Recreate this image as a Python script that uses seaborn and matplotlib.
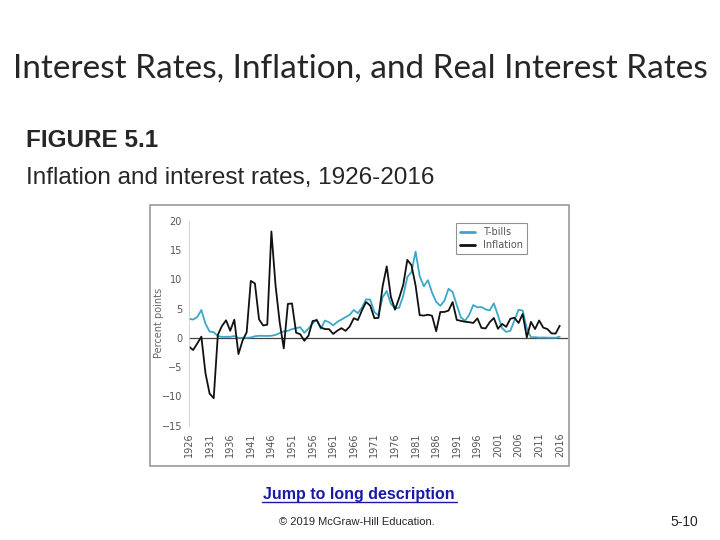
import matplotlib
matplotlib.use("Agg")

import matplotlib.pyplot as plt
import pandas as pd
import seaborn as sns
from matplotlib.patches import Rectangle

# Annual data, 1926-2016 (percent)
years = list(range(1926, 2017))
tbills = [
    3.27, 3.12, 3.56, 4.75, 2.41, 1.07, 0.96, 0.30, 0.16, 0.17,
    0.18, 0.31, -0.02, 0.02, 0.00, 0.06, 0.27, 0.35, 0.33, 0.33,
    0.35, 0.50, 0.81, 1.10, 1.20, 1.49, 1.66, 1.82, 0.86, 1.57,
    2.46, 3.14, 1.54, 2.95, 2.66, 2.13, 2.73, 3.12, 3.54, 3.93,
    4.76, 4.21, 5.21, 6.58, 6.52, 4.39, 3.84, 6.93, 8.00, 5.80,
    5.08, 5.12, 7.18, 10.38, 11.24, 14.71, 10.54, 8.80, 9.85, 7.72,
    6.16, 5.47, 6.35, 8.37, 7.81, 5.60, 3.51, 2.90, 3.90, 5.60,
    5.21, 5.26, 4.86, 4.68, 5.89, 3.83, 1.65, 1.02, 1.20, 2.98,
    4.80, 4.66, 1.60, 0.10, 0.12, 0.04, 0.06, 0.03, 0.02, 0.02,
    0.20,
]
inflation = [
    -1.49, -2.08, -0.97, 0.20, -6.03, -9.52, -10.30, 0.51, 2.03, 2.99,
    1.21, 3.10, -2.78, -0.48, 0.96, 9.72, 9.29, 3.16, 2.11, 2.25,
    18.16, 9.01, 2.71, -1.80, 5.79, 5.87, 0.88, 0.62, -0.50, 0.37,
    2.86, 3.02, 1.76, 1.50, 1.48, 0.67, 1.22, 1.65, 1.19, 1.92,
    3.35, 3.04, 4.72, 6.11, 5.49, 3.36, 3.41, 8.80, 12.20, 7.01,
    4.81, 6.77, 9.03, 13.31, 12.40, 8.94, 3.87, 3.80, 3.95, 3.77,
    1.13, 4.41, 4.42, 4.65, 6.11, 3.06, 2.90, 2.75, 2.67, 2.54,
    3.32, 1.70, 1.61, 2.68, 3.39, 1.55, 2.38, 1.88, 3.26, 3.42,
    2.54, 4.08, 0.09, 2.72, 1.50, 2.96, 1.74, 1.50, 0.76, 0.73,
    2.07,
]
tick_years = list(range(1926, 2017, 5))
y_ticks = [-15, -10, -5, 0, 5, 10, 15, 20]

df = pd.DataFrame({
    "Year": years * 2,
    "Rate": tbills + inflation,
    "Series": ["T-bills"] * len(years) + ["Inflation"] * len(years),
})

sns.set_style("white")

fig = plt.figure(figsize=(7.2, 5.4), dpi=100)

# Slide texts
fig.text(0.5, 0.873, "Interest Rates, Inflation, and Real Interest Rates",
         ha="center", va="center", fontsize=24, family="Lato")
fig.text(0.036, 0.739, "FIGURE 5.1", ha="left", va="center",
         fontsize=17.5, fontweight="bold", family="Liberation Sans")
fig.text(0.036, 0.670, "Inflation and interest rates, 1926-2016", ha="left",
         va="center", fontsize=17.5, family="Liberation Sans")

# Grey frame around the figure image
fig.patches.append(Rectangle((150 / 720, 1 - 466 / 540), 419 / 720, 261 / 540,
                             transform=fig.transFigure, fill=False,
                             edgecolor="#9a9a9a", linewidth=1.2))

ax = fig.add_axes([189 / 720, 1 - 425.7 / 540, 379 / 720, 205 / 540])
sns.lineplot(data=df, x="Year", y="Rate", hue="Series",
             palette={"T-bills": "#3aa8c9", "Inflation": "#111111"},
             linewidth=1.3, ax=ax)
ax.axhline(0, color="#444444", linewidth=0.9, zorder=0)

ax.set_xlim(1926, 2018)
ax.set_ylim(-15, 20)
ax.set_xticks(tick_years)
ax.set_xticklabels([str(y) for y in tick_years], rotation=90)
ax.set_yticks(y_ticks)
ax.set_xlabel("")
ax.set_ylabel("Percent points", fontsize=7, color="#666666")
ax.yaxis.set_label_coords(-0.066, 0.5)
ax.tick_params(axis="both", labelsize=7, colors="#555555", direction="out",
               length=3, width=0.6, pad=2)
for side in ["top", "right", "bottom"]:
    ax.spines[side].set_visible(False)
ax.spines["left"].set_color("#cccccc")
ax.spines["left"].set_linewidth(0.6)

leg = ax.legend(loc="upper right", bbox_to_anchor=(0.905, 1.012), fontsize=7,
                frameon=True, fancybox=False, handlelength=1.6,
                borderpad=0.4, labelspacing=0.3)
leg.get_frame().set_edgecolor("#777777")
leg.get_frame().set_linewidth(0.8)
for t in leg.get_texts():
    t.set_color("#555555")
for line in leg.get_lines():
    line.set_linewidth(2)

# Footer
fig.text(0.499, 0.085, "Jump to long description", ha="center",
         va="center", fontsize=11.5, fontweight="bold", color="#1a1aa8",
         family="Liberation Sans")
fig.add_artist(plt.Line2D([262 / 720, 457 / 720], [1 - 502 / 540, 1 - 502 / 540],
                          transform=fig.transFigure, color="#1a1aa8",
                          linewidth=1))
fig.text(0.495, 0.034, "\u00a9 2019 McGraw-Hill Education.", ha="center",
         va="center", fontsize=8, family="Liberation Sans")
fig.text(0.951, 0.034, "5-10", ha="center", va="center", fontsize=10,
         family="Liberation Sans")

fig.savefig("out.png", dpi=100)
